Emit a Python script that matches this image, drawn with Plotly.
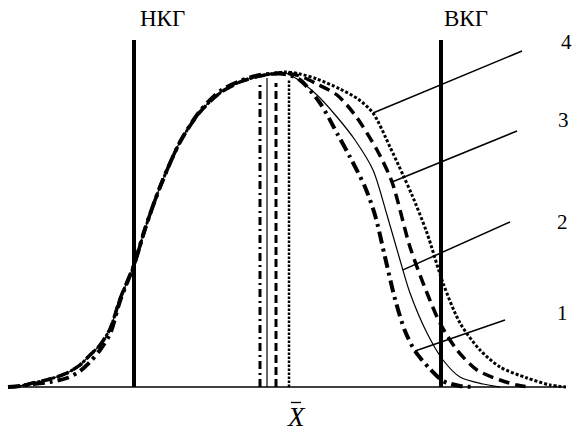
import numpy as np
import plotly.graph_objects as go

# Shared rising (left) branch of the distributions: position, frequency
left_x = [8, 20, 33, 50, 67, 80, 90, 100, 110, 120, 134, 145, 160, 180, 200, 220, 240, 260, 280]
left_h = [0, 1, 4, 8, 14, 22, 32, 42, 58, 88, 122, 158, 200, 245, 275, 294, 305, 311, 314]
left_h1 = [0, 1, 3, 5, 9, 16, 25, 37, 53, 86, 122, 158, 200, 245, 276, 296, 306, 312, 314]

# Falling (right) branches of curves 1..4
r1_x = [285, 300, 320, 338, 350, 365, 375, 385, 395, 405, 415, 430, 443, 460, 475]
r1_h = [313, 307, 284, 252, 230, 200, 172, 130, 88, 56, 36, 18, 6, 1, 0]

r2_x = [285, 297, 317, 337, 355, 373, 387, 400, 410, 427, 443, 460, 483, 500]
r2_h = [314, 308, 292, 270, 247, 217, 172, 127, 94, 54, 27, 10, 3, 0]

r3_x = [285, 300, 317, 337, 355, 377, 392, 410, 427, 440, 457, 477, 500, 517, 530]
r3_h = [314, 311, 303, 292, 272, 237, 205, 140, 94, 64, 37, 17, 7, 2, 0]

r4_x = [285, 300, 317, 340, 358, 373, 390, 403, 412, 427, 443, 460, 480, 500, 527, 550, 566]
r4_h = [315, 313, 308, 298, 288, 274, 240, 212, 192, 154, 104, 64, 37, 20, 9, 2, 0]

# Means of the four distributions and height of their marker lines
means = [260, 267, 276, 289]
mean_tops = [302, 309, 304, 307]

# Lower / upper control limits
NKG, VKG = 134, 441
limit_top = 347

curve_labels = ["1", "2", "3", "4"]
leader_x = [415, 403, 392, 373]          # where each leader touches its curve
leader_tail = [(505, 67), (510, 165), (517, 256), (522, 336)]
label_pos = [(562, 74), (562, 165), (563, 267), (566, 345)]

curves_x = [left_x[:-1] + r1_x, left_x[:-1] + r2_x, left_x[:-1] + r3_x, left_x[:-1] + r4_x]
curves_h = [left_h1[:-1] + r1_h, left_h[:-1] + r2_h, left_h[:-1] + r3_h, left_h[:-1] + r4_h]

styles = [
    dict(width=4, dash="12px,5px,3px,5px"),
    dict(width=1.2, dash="solid"),
    dict(width=3.5, dash="11px,6px"),
    dict(width=3, dash="3px,2px"),
]
mean_styles = [
    dict(width=3, dash="8px,4px,2px,4px"),
    dict(width=1.2, dash="solid"),
    dict(width=3, dash="8px,4px"),
    dict(width=2.5, dash="2.5px,1.5px"),
]

fig = go.Figure()

for cx, ch, st in zip(curves_x, curves_h, styles):
    fig.add_trace(go.Scatter(x=cx, y=ch, mode="lines",
                             line=dict(color="black", shape="spline", smoothing=0.8, **st),
                             hoverinfo="skip", showlegend=False))

for m, top, st in zip(means, mean_tops, mean_styles):
    fig.add_trace(go.Scatter(x=[m, m], y=[0, top], mode="lines",
                             line=dict(color="black", **st),
                             hoverinfo="skip", showlegend=False))

# Control limits
for lim in (NKG, VKG):
    fig.add_trace(go.Scatter(x=[lim, lim], y=[0, limit_top], mode="lines",
                             line=dict(color="black", width=4),
                             hoverinfo="skip", showlegend=False))

# Baseline
xmin = min(min(c) for c in curves_x)
xmax = max(max(c) for c in curves_x)
fig.add_trace(go.Scatter(x=[xmin, xmax], y=[0, 0], mode="lines",
                         line=dict(color="black", width=1.5),
                         hoverinfo="skip", showlegend=False))

font = dict(family="Liberation Serif, Times New Roman, serif", color="black")

# Leader lines and curve numbers
for i in range(4):
    hx = leader_x[i]
    hy = float(np.interp(hx, curves_x[i], curves_h[i]))
    tx, ty = leader_tail[i]
    fig.add_trace(go.Scatter(x=[hx, tx], y=[hy, ty], mode="lines",
                             line=dict(color="black", width=1.5),
                             hoverinfo="skip", showlegend=False))
    lx, ly = label_pos[i]
    fig.add_annotation(x=lx, y=ly, text=curve_labels[i], showarrow=False,
                       font=dict(size=21, **font), xanchor="center", yanchor="middle")

fig.add_annotation(x=NKG + 4, y=369, text="НКГ", showarrow=False,
                   font=dict(size=23, **font), xanchor="left", yanchor="middle")
fig.add_annotation(x=VKG + 1, y=369, text="ВКГ", showarrow=False,
                   font=dict(size=23, **font), xanchor="left", yanchor="middle")

# Grand mean symbol X with an overbar
fig.add_annotation(x=296, y=-30, text="<i>X</i>", showarrow=False,
                   font=dict(size=27, **font), xanchor="center", yanchor="middle")
fig.add_shape(type="line", x0=291, x1=301, y0=-15.5, y1=-15.5,
              line=dict(color="black", width=1.3))

fig.update_layout(
    width=574, height=432,
    margin=dict(l=0, r=0, t=0, b=0),
    paper_bgcolor="white", plot_bgcolor="white",
    xaxis=dict(range=[0, 574], visible=False, fixedrange=True),
    yaxis=dict(range=[-45, 387], visible=False, fixedrange=True),
)

fig.write_html("out.html")
